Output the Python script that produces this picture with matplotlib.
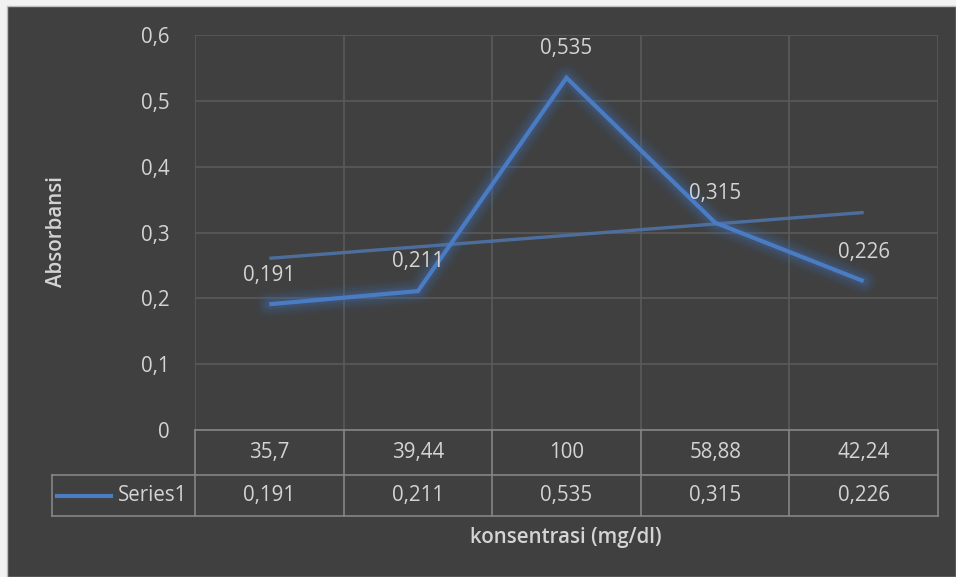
import numpy as np
import matplotlib
matplotlib.use("Agg")
import matplotlib.pyplot as plt
from matplotlib.lines import Line2D
from matplotlib.patches import Rectangle
from matplotlib.transforms import blended_transform_factory

# Chart data
concentrations = ["35,7", "39,44", "100", "58,88", "42,24"]
absorbance = [0.191, 0.211, 0.535, 0.315, 0.226]
series_name = "Series1"
y_ticks = [0, 0.1, 0.2, 0.3, 0.4, 0.5, 0.6]

W, H = 956, 577
BG = "#404040"
TXT = "#d4d4d4"
LINE = "#4a7cc4"
GRID = "#5a5a5a"
TABLE = "#858585"
FS = 14.8

plt.rcParams["font.family"] = ["Open Sans", "DejaVu Sans"]

fig = plt.figure(figsize=(W / 100, H / 100), dpi=100, facecolor="#f2f2f2")


def fx(px):
    return px / W


def fy(py):
    return 1 - py / H


def fmt(v):
    return f"{v:g}".replace(".", ",")


# dark chart area with a thin frame
fig.add_artist(Rectangle((fx(7), 0), 1 - fx(7), fy(6), transform=fig.transFigure,
                         facecolor=BG, edgecolor="#bdbdbd", linewidth=1.0, zorder=0))

ax = fig.add_axes([fx(195), fy(430), fx(938) - fx(195), fy(35) - fy(430)])
ax.set_facecolor(BG)
for s in ax.spines.values():
    s.set_visible(False)

x = np.arange(1, len(absorbance) + 1)
ax.set_xlim(0.5, len(absorbance) + 0.5)
ax.set_ylim(0, 0.6)

# gridlines: horizontal at y ticks, vertical at category boundaries
for yv in y_ticks:
    ax.axhline(yv, color=GRID, lw=1.2, zorder=1)
for b in np.arange(0.5, len(absorbance) + 1, 1.0):
    ax.axvline(b, color=GRID, lw=1.2, zorder=1)

ax.set_yticks(y_ticks)
ax.set_yticklabels([fmt(v) for v in y_ticks], fontsize=FS, color=TXT)
ax.tick_params(axis="y", length=0, pad=18)
ax.set_xticks([])

# soft glow under the series line
for lw, a in [(20, 0.05), (16, 0.07), (12.5, 0.09), (9, 0.12), (6.5, 0.15)]:
    ax.plot(x, absorbance, color="#3f6fb5", lw=lw, alpha=a, solid_capstyle="round",
            solid_joinstyle="round", zorder=2)
ax.plot(x, absorbance, color=LINE, lw=3.0, solid_capstyle="butt",
        solid_joinstyle="miter", zorder=4)

# linear trendline
k, c = np.polyfit(x, absorbance, 1)
ax.plot([x[0], x[-1]], [k * x[0] + c, k * x[-1] + c], color="#4f74a8", lw=2.4,
        alpha=0.9, solid_capstyle="butt", zorder=3)

# value labels above points
for xi, v in zip(x, absorbance):
    ax.annotate(fmt(v), (xi, v), xytext=(0, 21),
                textcoords="offset points", ha="center", va="center",
                fontsize=FS, color=TXT, zorder=5)

# data table below the plot
tr = blended_transform_factory(ax.transData, fig.transFigure)
top, mid, bot = fy(430), fy(475), fy(516)
x_left, x_right = 0.5, len(absorbance) + 0.5

fig.add_artist(Line2D([x_left, x_right], [top, top], transform=tr, color=TABLE, lw=1.2))
fig.add_artist(Line2D([fx(52), fx(938)], [mid, mid], transform=fig.transFigure, color=TABLE, lw=1.2))
fig.add_artist(Line2D([fx(52), fx(938)], [bot, bot], transform=fig.transFigure, color=TABLE, lw=1.2))
fig.add_artist(Line2D([fx(52), fx(52)], [mid, bot], transform=fig.transFigure, color=TABLE, lw=1.2))
for b in np.arange(0.5, len(absorbance) + 1, 1.0):
    fig.add_artist(Line2D([b, b], [top, bot], transform=tr, color=TABLE, lw=1.2))

for xi, lab, v in zip(x, concentrations, absorbance):
    fig.text(xi, (top + mid) / 2, lab, transform=tr, ha="center", va="center",
             fontsize=FS, color=TXT)
    fig.text(xi, (mid + bot) / 2, fmt(v), transform=tr,
             ha="center", va="center", fontsize=FS, color=TXT)

# legend key inside the table
fig.add_artist(Line2D([fx(57), fx(111)], [(mid + bot) / 2] * 2, transform=fig.transFigure,
                      color=LINE, lw=3.0))
fig.text(fx(153), (mid + bot) / 2, series_name, ha="center", va="center",
         fontsize=FS, color=TXT)

# axis titles
fig.text(fx(566), fy(537), "konsentrasi (mg/dl)", ha="center", va="center",
         fontsize=FS, color=TXT, fontweight="semibold")
fig.text(fx(57), fy(232), "Absorbansi", ha="center", va="center", rotation=90,
         fontsize=FS, color=TXT, fontweight="semibold")

fig.savefig("out.png", dpi=100, facecolor=fig.get_facecolor())
